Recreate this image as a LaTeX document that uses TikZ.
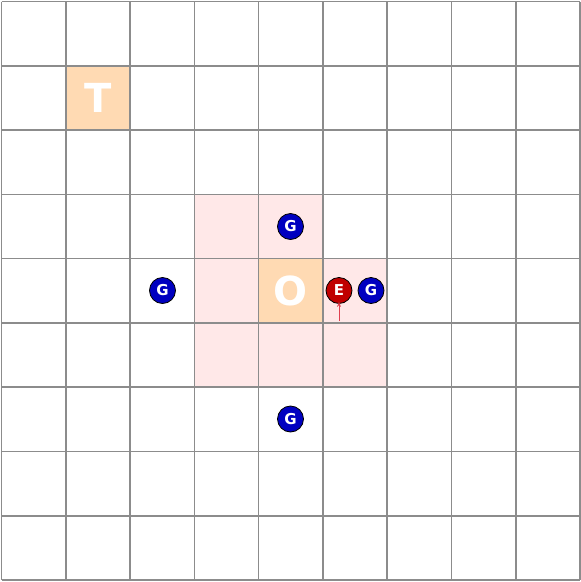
\documentclass[tikz,border=0pt]{standalone}
\usepackage{fontspec}
\setmainfont{DejaVu Sans}
\usetikzlibrary{arrows.meta}
\definecolor{peach}{HTML}{FFDAB3}
\definecolor{pinkc}{HTML}{FFE8E8}
\definecolor{gridc}{HTML}{8C8C8C}
\definecolor{ered}{HTML}{C00000}
\definecolor{gblue}{HTML}{0000C0}
\definecolor{arrred}{HTML}{E04050}
\begin{document}
\begin{tikzpicture}[x=1pt,y=-1pt,
  bigletter/.style={text=white,font=\bfseries\fontsize{40}{40}\selectfont},
  agent/.style={circle,draw=black,line width=0.8pt,minimum size=26pt,inner sep=0pt,text=white,font=\bfseries\fontsize{15}{15}\selectfont},
  gnode/.style={agent,fill=gblue},
  enode/.style={agent,fill=ered},
  gridline/.style={draw=gridc,line width=1.6pt}]
\useasboundingbox (0,0) rectangle (581,582);
\def\c{64.28}
% pink cells
\foreach \i/\j in {3/3,4/3,3/4,5/4,3/5,4/5,5/5}{
  \fill[pinkc] (1.5+\i*\c,1.5+\j*\c) rectangle (1.5+\i*\c+\c,1.5+\j*\c+\c);
}
% peach cells
\fill[peach] (1.5+1*\c,1.5+1*\c) rectangle (1.5+2*\c,1.5+2*\c);
\fill[peach] (1.5+4*\c,1.5+4*\c) rectangle (1.5+5*\c,1.5+5*\c);
% grid
\foreach \k in {0,...,9}{
  \draw[gridline] (1.5+\k*\c,1.5) -- (1.5+\k*\c,580.0);
  \draw[gridline] (1.5,1.5+\k*\c) -- (580.0,1.5+\k*\c);
}
\node[bigletter] (T) at (97.9,98.4) {T};
\node[bigletter] (O) at (290.8,290.8) {O};
\node[gnode] (g1) at (290.5,226.5) {G};
\node[gnode] (g2) at (162.5,290.5) {G};
\node[enode] (e) at (339,290.5) {E};
\node[gnode] (g3) at (371,290.5) {G};
\node[gnode] (g4) at (290.5,419) {G};
\coordinate (etail) at (339,321);
\draw[arrred,line width=0.8pt,-{Stealth[length=5pt,width=4pt]}] (etail) -- ([yshift=2pt]e.south);
\end{tikzpicture}
\end{document}
